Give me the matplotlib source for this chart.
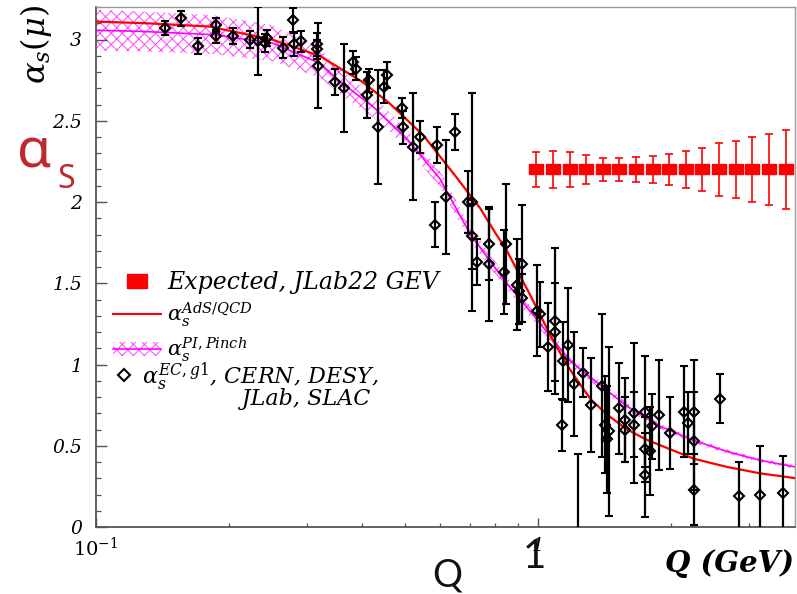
import numpy as np
import matplotlib
matplotlib.use("Agg")
import matplotlib.pyplot as plt
from matplotlib.lines import Line2D
from matplotlib.patches import Patch
from matplotlib.legend_handler import HandlerTuple, HandlerLine2D
from matplotlib.ticker import FixedLocator, FixedFormatter, MultipleLocator, LogLocator, NullFormatter

plt.rcParams["font.family"] = ["DejaVu Serif"]
plt.rcParams["mathtext.fontset"] = "dejavuserif"
plt.rcParams["hatch.linewidth"] = 0.7

# AdS/QCD light-front holography coupling
ads_q = [0.10, 0.13, 0.18, 0.25, 0.32, 0.40, 0.46, 0.55, 0.65, 0.74, 0.80, 0.85,
         0.90, 0.95, 1.00, 1.08, 1.16, 1.25, 1.32, 1.45, 1.59, 1.75, 1.90, 2.25,
         2.67, 3.18, 3.83]
ads_alpha = [3.11, 3.10, 3.08, 3.00, 2.90, 2.74, 2.61, 2.41, 2.16, 1.96, 1.81, 1.70,
             1.57, 1.45, 1.33, 1.15, 1.00, 0.87, 0.78, 0.68, 0.60, 0.54, 0.50, 0.42,
             0.37, 0.33, 0.30]

# Pinch-technique effective charge and its uncertainty band
pinch_q = [0.100, 0.126, 0.184, 0.251, 0.321, 0.357, 0.424, 0.505, 0.600, 0.702,
           0.835, 0.993, 1.182, 1.334, 1.588, 1.888, 2.246, 2.673, 3.179, 3.830]
pinch_alpha = [3.057, 3.050, 3.030, 2.977, 2.854, 2.739, 2.585, 2.389, 2.142, 1.802,
               1.525, 1.278, 1.020, 0.907, 0.743, 0.620, 0.533, 0.465, 0.410, 0.369]
pinch_halfwidth = [0.125, 0.123, 0.120, 0.110, 0.090, 0.075, 0.065, 0.055, 0.050, 0.045,
                   0.040, 0.035, 0.030, 0.025, 0.020, 0.017, 0.015, 0.013, 0.012, 0.011]

# Projected JLab 22 GeV measurement
jlab22_q = [0.990, 1.081, 1.181, 1.284, 1.403, 1.525, 1.667, 1.821,
            1.980, 2.162, 2.350, 2.568, 2.805, 3.050, 3.332, 3.640]
jlab22_alpha = [2.2, 2.2, 2.2, 2.2, 2.2, 2.2, 2.2, 2.2,
                2.2, 2.2, 2.2, 2.2, 2.2, 2.2, 2.2, 2.2]
jlab22_err = [0.108, 0.111, 0.105, 0.090, 0.071, 0.071, 0.074, 0.080,
              0.096, 0.111, 0.133, 0.164, 0.176, 0.198, 0.219, 0.241]

# Effective charge alpha_g1 from CERN, DESY, JLab and SLAC
data_q = [0.143, 0.156, 0.170, 0.187, 0.187, 0.204, 0.223, 0.233, 0.241, 0.244,
          0.265, 0.279, 0.281, 0.291, 0.316, 0.316, 0.318, 0.347, 0.364, 0.381,
          0.387, 0.410, 0.415, 0.434, 0.447, 0.455, 0.492, 0.494, 0.520, 0.541,
          0.590, 0.647, 0.585, 0.619, 0.695, 0.708, 0.708, 0.727, 0.775, 0.775,
          0.845, 0.838, 0.895, 0.907, 0.919, 0.919, 0.993, 1.010, 1.055, 1.093,
          1.093, 1.141, 1.171, 1.131, 1.206, 1.266, 1.316, 1.232, 1.394, 1.413,
          1.430, 1.450, 1.527, 1.573, 1.573, 1.649, 1.649, 1.746, 1.746, 1.746,
          1.786, 1.808, 1.881, 1.982, 2.132, 2.188, 2.246, 2.246, 2.246, 2.572,
          2.840, 3.179, 3.578]
data_alpha = [3.07, 3.13, 2.96, 3.09, 3.02, 3.02, 3.00, 2.99, 2.98, 3.01,
              2.95, 3.12, 2.97, 2.99, 2.97, 2.94, 2.84, 2.74, 2.70, 2.86,
              2.82, 2.66, 2.75, 2.46, 2.71, 2.78, 2.58, 2.46, 2.34, 2.40,
              2.35, 2.43, 1.86, 2.03, 2.00, 2.00, 1.79, 1.63, 1.74, 1.62,
              1.74, 1.57, 1.49, 1.45, 1.62, 1.41, 1.33, 1.31, 1.11, 1.27,
              1.20, 1.02, 1.12, 0.63, 0.88, 0.95, 0.75, -0.05, 0.87, 0.63,
              0.54, 0.59, 0.73, 0.66, 0.60, 0.70, 0.63, 0.71, 0.48, 0.32,
              0.47, 0.62, 0.69, 0.58, 0.71, 0.64, 0.71, 0.53, 0.23, 0.79,
              0.19, 0.20, 0.21]
data_err = [0.045, 0.045, 0.050, 0.045, 0.040, 0.050, 0.055, 0.210, 0.055, 0.050,
            0.065, 0.075, 0.070, 0.065, 0.070, 0.060, 0.260, 0.080, 0.270, 0.070,
            0.070, 0.140, 0.070, 0.350, 0.100, 0.080, 0.060, 0.100, 0.330, 0.100,
            0.110, 0.110, 0.140, 0.350, 0.190, 0.670, 0.200, 0.140, 0.220, 0.350,
            0.370, 0.260, 0.280, 0.200, 0.360, 0.150, 0.280, 0.200, 0.270, 0.450,
            0.300, 0.240, 0.350, 0.160, 0.320, 0.150, 0.290, 0.500, 0.440, 0.300,
            0.330, 0.520, 0.280, 0.260, 0.200, 0.430, 0.200, 0.340, 0.200, 0.260,
            0.270, 0.200, 0.340, 0.220, 0.280, 0.190, 0.320, 0.300, 0.220, 0.150,
            0.210, 0.300, 0.230]

y_ticks = [0, 0.5, 1, 1.5, 2, 2.5, 3]
y_tick_labels = ["0", "0.5", "1", "1.5", "2", "2.5", "3"]
x_ticks = [0.1, 1]
x_tick_labels = [r"$\mathit{10}^{\mathit{-1}}$", "1"]

RED = "#ff0000"
MAGENTA = "#ff00ff"
HATCH = "#ff44ff"
AXIS_GREY = "#555555"

# wide rectangular marker for the projected points
rect_marker = [(-1.4, -1.0), (1.4, -1.0), (1.4, 1.0), (-1.4, 1.0), (-1.4, -1.0)]


class RaisedLineHandler(HandlerLine2D):
    """Legend key lifted so it sits beside the first line of a two-line label."""

    def __init__(self, lift, **kw):
        super().__init__(**kw)
        self.lift = lift

    def create_artists(self, *args, **kwargs):
        artists = super().create_artists(*args, **kwargs)
        for art in artists:
            art.set_ydata(np.asarray(art.get_ydata(), dtype=float) + self.lift)
        return artists


fig = plt.figure(figsize=(7.97, 5.94), dpi=100)
ax = fig.add_axes([96 / 797, 67 / 594, 699 / 797, 520 / 594])
ax.set_xscale("log")
ax.set_xlim(0.1, 3.81)
ax.set_ylim(0, 3.2)

# pinch-technique band: cross-hatched with its central value
band_lo = [a - h for a, h in zip(pinch_alpha, pinch_halfwidth)]
band_hi = [a + h for a, h in zip(pinch_alpha, pinch_halfwidth)]
ax.fill_between(pinch_q, band_lo, band_hi, facecolor="none", edgecolor=HATCH,
                hatch="xxx", linewidth=0, zorder=1)
ax.plot(pinch_q, pinch_alpha, color=MAGENTA, lw=1.2, zorder=2)

# AdS/QCD curve
ax.plot(ads_q, ads_alpha, color=RED, lw=1.6, zorder=3)

# measured effective charge
ax.errorbar(data_q, data_alpha, yerr=data_err, fmt="D", ms=5.6, mfc="none",
            mec="black", mew=1.5, ecolor="black", elinewidth=1.6, capsize=3,
            capthick=1.5, zorder=4)

# projected 22 GeV points
ax.errorbar(jlab22_q, jlab22_alpha, yerr=jlab22_err, fmt="none", ecolor=RED,
            elinewidth=1.2, capsize=3, capthick=1.2, zorder=5)
ax.plot(jlab22_q, jlab22_alpha, ls="none", marker=rect_marker, ms=10,
        color=RED, mec=RED, zorder=6)

# axes styling
for side in ("left", "bottom"):
    ax.spines[side].set_color(AXIS_GREY)
    ax.spines[side].set_linewidth(1.3)
for side in ("top", "right"):
    ax.spines[side].set_color("#999999")
    ax.spines[side].set_linewidth(1.0)

ax.yaxis.set_major_locator(FixedLocator(y_ticks))
ax.yaxis.set_major_formatter(FixedFormatter(y_tick_labels))
ax.yaxis.set_minor_locator(MultipleLocator(0.1))
ax.xaxis.set_major_locator(FixedLocator(x_ticks))
ax.xaxis.set_major_formatter(FixedFormatter(x_tick_labels))
ax.xaxis.set_minor_locator(LogLocator(base=10, subs=[2, 3, 4, 5, 6, 7, 8, 9]))
ax.xaxis.set_minor_formatter(NullFormatter())

ax.tick_params(axis="y", which="major", direction="in", length=8, width=1.0,
               color=AXIS_GREY, pad=10, labelsize=13.5)
ax.tick_params(axis="y", which="minor", direction="in", length=3.8, width=0.9,
               color=AXIS_GREY)
ax.tick_params(axis="x", which="major", direction="in", length=6.5, width=1.0,
               color=AXIS_GREY, pad=7, labelsize=14)
ax.tick_params(axis="x", which="minor", direction="in", length=3, width=0.9,
               color=AXIS_GREY)
for lab in ax.get_xticklabels() + ax.get_yticklabels():
    lab.set_fontstyle("italic")

# legend: the three theory/projection entries ...
leg_prop = {"family": "DejaVu Serif", "style": "italic", "size": 15}
h_exp = Line2D([], [], ls="none", marker=rect_marker, ms=15, color=RED, mec=RED)
h_ads = Line2D([], [], color=RED, lw=1.5)
h_pinch = (Patch(facecolor="none", edgecolor=HATCH, hatch="xxx", lw=0),
           Line2D([], [], color=MAGENTA, lw=1.2))
leg1 = ax.legend([h_exp, h_ads, h_pinch],
                 ["Expected, JLab22 GEV", r"$\alpha_s^{AdS/QCD}$", r"$\alpha_s^{PI,Pinch}$"],
                 loc="upper left", bbox_to_anchor=(0.024, 0.493), frameon=False,
                 borderaxespad=0, borderpad=0, handlelength=2.3, handletextpad=0.3,
                 labelspacing=0.32, handler_map={tuple: HandlerTuple(ndivide=1, pad=0)},
                 prop=leg_prop)
leg1.get_texts()[0].set_fontsize(17)
ax.add_artist(leg1)

# ... and the data entry, whose label runs over two lines
h_data = Line2D([], [], ls="none", marker="D", ms=6.5, mfc="none", mec="black", mew=1.5)
leg2 = ax.legend([h_data],
                 [r"$\alpha_s^{EC,g1}$, CERN, DESY," + "\n" + "              JLab, SLAC"],
                 loc="upper left", bbox_to_anchor=(0.024, 0.321), frameon=False,
                 borderaxespad=0, borderpad=0, handlelength=1.0, handletextpad=0.3,
                 handler_map={h_data: RaisedLineHandler(7.5)},
                 prop=dict(leg_prop, size=16))
leg2.get_texts()[0].set_linespacing(0.7)

# annotations around the frame
fig.text(36 / 797, 1 - 5 / 594, r"$\alpha_s(\mu)$", rotation=90, ha="center",
         va="top", fontsize=23)
fig.text(794 / 797, 1 - 572 / 594, "Q (GeV)", ha="right", va="baseline",
         fontsize=21, fontstyle="italic", fontweight="bold", family="DejaVu Serif")
fig.text(17 / 797, 1 - 167 / 594, "α", ha="left", va="baseline", fontsize=40,
         color="#c0282d", family="Noto Sans")
fig.text(57 / 797, 1 - 188 / 594, "S", ha="left", va="baseline", fontsize=23,
         color="#c0282d", family="Noto Sans")
fig.text(534 / 797, 1 - 568 / 594, "1", ha="center", va="baseline", fontsize=29,
         color="#111111", family="Lato")
fig.text(447 / 797, 1 - 587 / 594, "Q", ha="center", va="baseline", fontsize=27,
         color="#111111", family="Lato")

fig.savefig("out.png", dpi=100, facecolor="white")
